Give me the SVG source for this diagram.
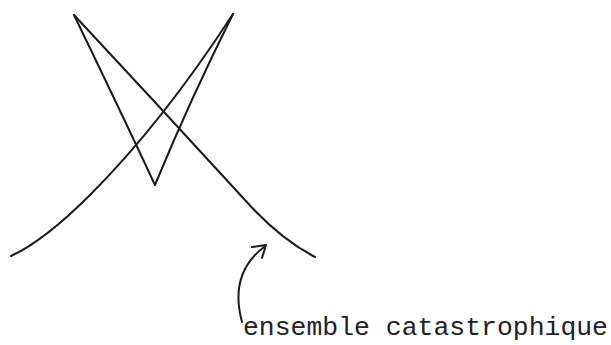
<svg xmlns="http://www.w3.org/2000/svg" width="611" height="345" viewBox="0 0 611 345">
<style>
.c{fill:none;stroke:#1a1a1a;stroke-width:2;stroke-linecap:round;stroke-linejoin:round}
.t{font-family:"Liberation Mono","Courier New",monospace;font-size:25px;fill:#222}
</style>
<rect width="611" height="345" fill="#fff"/>
<g id="curves">
<path class="c" d="M74,15 C130,75 190,140 245,200 C270,228 292,245 315,257"/>
<path class="c" d="M233,14 C190,80 140,145 90,195 C60,225 35,245 11,256"/>
<path class="c" d="M74,15 Q120,110 155,185 Q190,100 233,14" stroke-width="1.6"/>
</g>
<g id="connectors">
<path class="c" d="M242,322 C236,300 234,270 264,247"/>
<path class="c" d="M252,247 L266,245 L262,258"/>
</g>
<g id="label">
<text class="t" x="243" y="335" textLength="365" lengthAdjust="spacingAndGlyphs">ensemble catastrophique</text>
</g>
</svg>
